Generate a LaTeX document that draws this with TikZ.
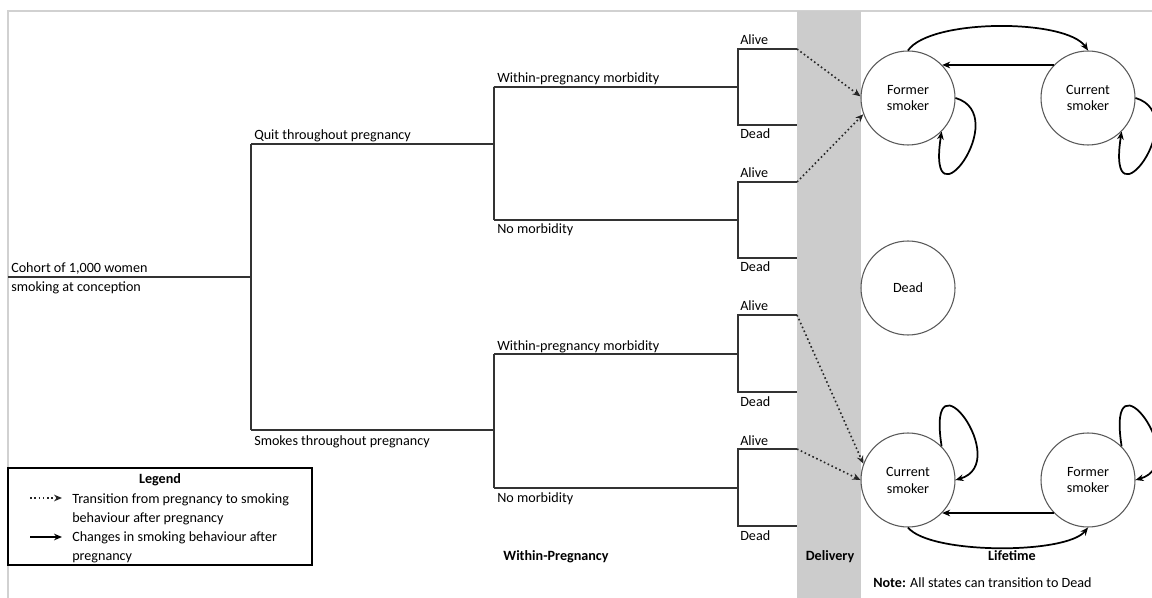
\documentclass[tikz,border=0pt]{standalone}
\usepackage{fontspec}
\setmainfont{Carlito}
\usetikzlibrary{arrows.meta}
\begin{document}
\begin{tikzpicture}[x=0.75pt,y=-0.75pt,
  tree/.style={draw=black!80, line width=0.9pt},
  lab/.style={inner sep=0pt, anchor=base west, font=\fontsize{10.6}{12.7}\selectfont},
  boldlab/.style={inner sep=0pt, anchor=base, font=\fontsize{10.6}{12.7}\selectfont\bfseries},
  state/.style={circle, draw=black!65, line width=0.8pt, fill=white, minimum size=70.5pt, inner sep=0pt, align=center, font=\fontsize{10.6}{12.7}\selectfont},
  trans/.style={draw=black, line width=1.3pt, -{Stealth[length=6pt,width=5pt]}},
  entry/.style={draw=black!85, line width=1.2pt, dotted, -{Stealth[length=6pt,width=5pt]}}]
\useasboundingbox (0,0) rectangle (1152,598);
\clip (0,0) rectangle (1152,598);
% frame
\draw[black!18, line width=0.8pt] (8,598) -- (8,11) -- (1152,11);
% delivery band
\fill[black!20] (797,11) rectangle (861,598);
% tree coordinates
\coordinate (r0) at (8,277);
\coordinate (r1) at (251,277);
\coordinate (q0) at (251,144);
\coordinate (s0) at (251,430);
\coordinate (qa) at (494,87);
\coordinate (qb) at (494,220);
\coordinate (sa) at (494,354);
\coordinate (sb) at (494,488);
\coordinate (qa1) at (738,49);  \coordinate (qa2) at (738,125);
\coordinate (qb1) at (738,182); \coordinate (qb2) at (738,258);
\coordinate (sa1) at (738,315); \coordinate (sa2) at (738,392);
\coordinate (sb1) at (738,449); \coordinate (sb2) at (738,526);
\coordinate (eqa1) at (797,49);  \coordinate (eqa2) at (797,125);
\coordinate (eqb1) at (797,182); \coordinate (eqb2) at (797,258);
\coordinate (esa1) at (797,315); \coordinate (esa2) at (797,392);
\coordinate (esb1) at (797,449); \coordinate (esb2) at (797,526);
% tree lines
\draw[tree] (r0) -- (r1);
\draw[tree] (q0) -- (s0);
\draw[tree] (q0) -| (qa) -- (qb);
\draw[tree] (qb) -- (qb -| qa1);
\draw[tree] (s0) -| (sa) -- (sb);
\draw[tree] (sb) -- (sb -| sa1);
\draw[tree] (qa) -- (qa -| qa1);
\draw[tree] (sa) -- (sa -| sa1);
\draw[tree] (eqa1) -- (qa1) -- (qa2) -- (eqa2);
\draw[tree] (eqb1) -- (qb1) -- (qb2) -- (eqb2);
\draw[tree] (esa1) -- (sa1) -- (sa2) -- (esa2);
\draw[tree] (esb1) -- (sb1) -- (sb2) -- (esb2);
% tree labels
\node[lab] (tc1) at (11,273) {Cohort of 1,000 women};
\node[lab] (tc2) at (11,292) {smoking at conception};
\node[lab] (tq) at (254,140) {Quit throughout pregnancy};
\node[lab] (ts) at (254,445) {Smokes throughout pregnancy};
\node[lab] (tqa) at (497,83) {Within-pregnancy morbidity};
\node[lab] (tqb) at (497,234) {No morbidity};
\node[lab] (tsa) at (497,350) {Within-pregnancy morbidity};
\node[lab] (tsb) at (497,502) {No morbidity};
\node[lab] (al1) at (740,45) {Alive};
\node[lab] (de1) at (740,139) {Dead};
\node[lab] (al2) at (740,178) {Alive};
\node[lab] (de2) at (740,272) {Dead};
\node[lab] (al3) at (740,311) {Alive};
\node[lab] (de3) at (740,406) {Dead};
\node[lab] (al4) at (740,445) {Alive};
\node[lab] (de4) at (740,540) {Dead};
% states
\node[state] (F1) at (908,98) {Former\\smoker};
\node[state] (C1) at (1088,98) {Current\\smoker};
\node[state] (D) at (908,288) {Dead};
\node[state] (C2) at (908,480) {Current\\smoker};
\node[state] (F2) at (1088,480) {Former\\smoker};
% transitions top
\draw[trans] (F1.north) .. controls +(22,-32) and +(-22,-32) .. (C1.north);
\draw[trans] (C1.136) -- (F1.44);
\draw[trans] (F1.0) .. controls +(58,17) and +(-16,102) .. (F1.-45);
\draw[trans] (C1.0) .. controls +(58,17) and +(-16,102) .. (C1.-45);
% transitions bottom
\draw[trans] (C2.south) .. controls +(22,27) and +(-22,27) .. (F2.south);
\draw[trans] (F2.-136) -- (C2.-44);
\draw[trans] (C2.45) .. controls +(-16,-102) and +(58,-17) .. (C2.0);
\draw[trans] (F2.45) .. controls +(-16,-102) and +(58,-17) .. (F2.0);
% entry arrows
\draw[entry] (eqa1) -- (F1.178);
\draw[entry] (eqb1) -- (F1.200);
\draw[entry] (esa1) -- (C2.160);
\draw[entry] (esb1) -- (C2.180);
% section labels
\node[boldlab] (wp) at (556,560) {Within-Pregnancy};
\node[boldlab] (dl) at (830,560) {Delivery};
\node[boldlab] (lt) at (1012,560) {Lifetime};
\node[lab] (note) at (873,587) {\textbf{Note:} All states can transition to Dead};
% legend
\draw[black, line width=1.5pt] (8,468) rectangle (312,565);
\node[boldlab] (lg) at (160,483) {Legend};
\coordinate (l1a) at (30,498); \coordinate (l1b) at (62,498);
\coordinate (l2a) at (30,537); \coordinate (l2b) at (62,537);
\draw[entry] (l1a) -- (l1b);
\draw[trans] (l2a) -- (l2b);
\node[lab] (lt1) at (72,503) {Transition from pregnancy to smoking};
\node[lab] (lt2) at (72,522) {behaviour after pregnancy};
\node[lab] (lt3) at (72,541) {Changes in smoking behaviour after};
\node[lab] (lt4) at (72,560) {pregnancy};
\end{tikzpicture}
\end{document}
